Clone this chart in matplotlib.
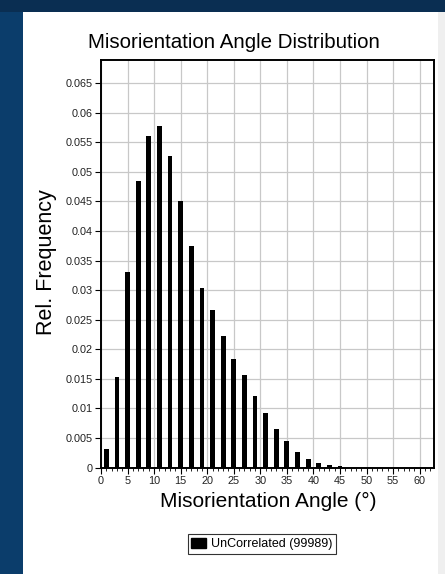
import matplotlib.pyplot as plt
from matplotlib.patches import Rectangle, Patch
import numpy as np

plt.rcParams['font.family'] = ['Liberation Sans', 'DejaVu Sans']

# bin centres (deg) and relative frequencies
angles = [1, 3, 5, 7, 9, 11, 13, 15, 17, 19, 21, 23, 25, 27, 29, 31, 33,
          35, 37, 39, 41, 43, 45]
rel_freq = [0.0032, 0.0153, 0.0330, 0.0485, 0.0560, 0.0577, 0.0526, 0.0450,
            0.0375, 0.0303, 0.0266, 0.0223, 0.0183, 0.0157, 0.0121, 0.0092,
            0.0065, 0.0045, 0.0026, 0.0015, 0.0007, 0.0005, 0.0002]
x_ticks = [0, 5, 10, 15, 20, 25, 30, 35, 40, 45, 50, 55, 60]
y_ticks = [0, 0.005, 0.01, 0.015, 0.02, 0.025, 0.03, 0.035, 0.04, 0.045,
           0.05, 0.055, 0.06, 0.065]
y_tick_labels = ['0', '0.005', '0.01', '0.015', '0.02', '0.025', '0.03',
                 '0.035', '0.04', '0.045', '0.05', '0.055', '0.06', '0.065']
series_name = 'UnCorrelated (99989)'

W, H = 445, 574
fig = plt.figure(figsize=(W / 100, H / 100), dpi=100)
fig.patch.set_facecolor('#0b3d6b')

# dark top strip and white page, behind the axes
fig.patches.append(Rectangle((0, 1 - 12 / H), 1, 12 / H, transform=fig.transFigure,
                             facecolor='#0a2e52', edgecolor='none', zorder=-5))
fig.patches.append(Rectangle((23 / W, 0), 1 - 23 / W, 1 - 12 / H, transform=fig.transFigure,
                             facecolor='white', edgecolor='none', zorder=-5))
fig.patches.append(Rectangle((438 / W, 0), 7 / W, 1 - 12 / H, transform=fig.transFigure,
                             facecolor='#efefef', edgecolor='none', zorder=-5))

ax = fig.add_axes([101 / W, 1 - 467.5 / H, (434 - 101) / W, (467.5 - 59.5) / H])
ax.set_facecolor('white')

ax.bar(angles, rel_freq, width=0.9, color='black', zorder=3)

ax.set_xlim(0, 62.7)
ax.set_ylim(0, 0.069)
ax.set_xticks(x_ticks)
ax.set_xticks(np.arange(0, 63, 1), minor=True)
ax.set_yticks(y_ticks)
ax.set_yticklabels(y_tick_labels)
ax.tick_params(axis='both', which='major', labelsize=7.8, labelcolor='#222222',
               length=4, width=0.8, direction='out', pad=2)
ax.tick_params(axis='x', which='minor', length=2, width=0.6, direction='out')
ax.grid(True, which='major', color='#c8c8c8', linewidth=0.9, zorder=0)
ax.set_axisbelow(True)
for s in ax.spines.values():
    s.set_color('black')
    s.set_linewidth(1.4)

fig.text(234 / W, 1 - 42 / H, 'Misorientation Angle Distribution', fontsize=14.8,
         ha='center', va='center', color='black')
fig.text(47 / W, 1 - 262 / H, 'Rel. Frequency', fontsize=15.5, rotation=90,
         ha='center', va='center', color='black')
fig.text(268 / W, 1 - 501 / H, 'Misorientation Angle (°)', fontsize=15,
         ha='center', va='center', color='black')

leg = fig.legend(handles=[Patch(facecolor='black', edgecolor='black', label=series_name)],
                 loc='center', bbox_to_anchor=(262 / W, 1 - 544 / H), fontsize=9,
                 frameon=True, fancybox=False, handlelength=1.2, handleheight=0.9,
                 handletextpad=0.4, borderpad=0.3, borderaxespad=0)
leg.get_frame().set_edgecolor('black')
leg.get_frame().set_linewidth(0.8)

fig.savefig('out.png', dpi=100, facecolor=fig.get_facecolor())
